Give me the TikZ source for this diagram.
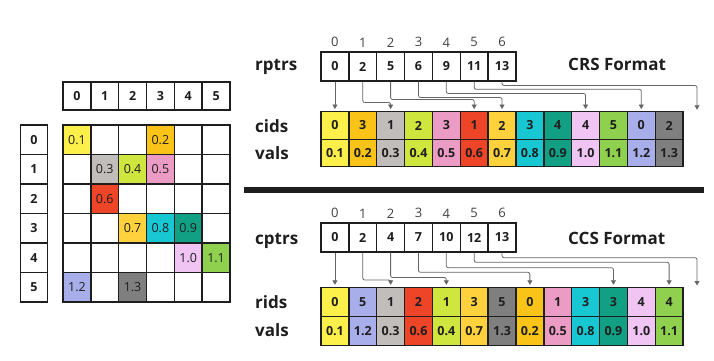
\documentclass[tikz,border=0pt]{standalone}
\usepackage{fontspec}
\setmainfont{Open Sans}
\definecolor{ink}{HTML}{1E1E1E}
\definecolor{wire}{HTML}{666666}
\definecolor{nz01}{HTML}{FDF04A}
\definecolor{nz02}{HTML}{F9C318}
\definecolor{nz03}{HTML}{C1BDBB}
\definecolor{nz04}{HTML}{CFE63F}
\definecolor{nz05}{HTML}{EC9CC4}
\definecolor{nz06}{HTML}{EE4428}
\definecolor{nz07}{HTML}{FFD23D}
\definecolor{nz08}{HTML}{17C8D3}
\definecolor{nz09}{HTML}{11A084}
\definecolor{nz10}{HTML}{F0C5F4}
\definecolor{nz11}{HTML}{8FD14F}
\definecolor{nz12}{HTML}{A7AEEA}
\definecolor{nz13}{HTML}{7F7F7F}
\usetikzlibrary{arrows.meta,positioning}

\begin{document}
\begin{tikzpicture}[x=1pt, y=-1pt,
  cell/.style={rectangle, draw=ink, line width=1.4pt, fill=white, minimum width=27.85pt, minimum height=27.5pt, inner sep=0pt, font=\bfseries\fontsize{12.5}{12.5}\selectfont, text=ink},
  mcell/.style={cell, minimum width=27.83pt, minimum height=29.5pt, font=\fontsize{12.5}{12.5}\selectfont},
  hcell/.style={mcell, font=\bfseries\fontsize{12.5}{12.5}\selectfont},
  lbl/.style={font=\bfseries\fontsize{17}{17}\selectfont, text=ink, inner sep=0pt, anchor=base west},
  idx/.style={font=\fontsize{13}{13}\selectfont, text=ink!85, inner sep=0pt},
  ptr/.style={-{Triangle[length=4.5pt,width=5pt]}, draw=wire, line width=0.8pt, rounded corners=2pt}]
\useasboundingbox (0,0) rectangle (714,360);
% dense matrix
\foreach \j in {0,...,5} \node[hcell, minimum height=27.7pt] (ch\j) at ({63+27.83*(\j+0.5)},96) {\j};
\foreach \i in {0,...,5} \node[hcell, minimum width=26.7pt] (rh\i) at (34,{125+29.5*(\i+0.5)}) {\i};
\foreach \i in {0,...,5} \foreach \j in {0,...,5}
  \node[mcell] (m\i\j) at ({63+27.83*(\j+0.5)},{125+29.5*(\i+0.5)}) {};
\foreach \i/\j/\v/\c in {0/0/0.1/nz01,0/3/0.2/nz02,1/1/0.3/nz03,1/2/0.4/nz04,1/3/0.5/nz05,2/1/0.6/nz06,3/2/0.7/nz07,
    3/3/0.8/nz08,3/4/0.9/nz09,4/4/1.0/nz10,4/5/1.1/nz11,5/0/1.2/nz12,5/2/1.3/nz13}
  \node[mcell, fill=\c] (v\i\j) at (m\i\j) {\v};
% CRS
\node[lbl] (lrp) at (255,70.5) {rptrs};
\node[lbl] (lci) at (255,132.7) {cids};
\node[lbl] (lcv) at (255,159.5) {vals};
\node[lbl] (crs) at (568,70.7) {CRS Format};
\foreach \v [count=\k from 0] in {0,2,5,6,9,11,13} {
  \node[cell, minimum height=29pt] (rp\k) at ({321+27.85*(\k+0.5)},66.5) {\v};
  \node[idx, above=4pt of rp\k] (rpi\k) {\k};
}
\foreach \c/\v/\col [count=\k from 0] in {0/0.1/nz01,3/0.2/nz02,1/0.3/nz03,2/0.4/nz04,3/0.5/nz05,1/0.6/nz06,2/0.7/nz07,
    3/0.8/nz08,4/0.9/nz09,4/1.0/nz10,5/1.1/nz11,0/1.2/nz12,2/1.3/nz13} {
  \node[cell, fill=\col] (ci\k) at ({321+27.85*(\k+0.5)},125.5) {\c};
  \node[cell, fill=\col] (cv\k) at ({321+27.85*(\k+0.5)},153) {\v};
}
\coordinate (ciend) at (697,111.75);
\draw[ptr] (rp0.south) -- ([yshift=2pt]ci0.north);
\foreach \s/\t/\lv in {1/ci2.north/102.5,2/ci5.north/99.5,3/ci6.north/97.5,4/ci9.north/93.5,5/ci11.north/89.3,6/ciend/85.5}
  \draw[ptr] (rp\s.south) -- (rp\s.south |- 0,\lv) -| ([yshift=2pt]\t);
% divider
\fill[ink] (244,186.7) rectangle (704,192.7);
% CCS
\node[lbl] (lcp) at (255,244) {cptrs};
\node[lbl] (lri) at (255,308.3) {rids};
\node[lbl] (lrv) at (255,336) {vals};
\node[lbl] (ccs) at (568,244) {CCS Format};
\foreach \v [count=\k from 0] in {0,2,4,7,10,12,13} {
  \node[cell, minimum height=29pt] (cp\k) at ({321+27.85*(\k+0.5)},237.5) {\v};
  \node[idx, above=4pt of cp\k] (cpi\k) {\k};
}
\foreach \r/\v/\col [count=\k from 0] in {0/0.1/nz01,5/1.2/nz12,1/0.3/nz03,2/0.6/nz06,1/0.4/nz04,3/0.7/nz07,5/1.3/nz13,
    0/0.2/nz02,1/0.5/nz05,3/0.8/nz08,3/0.9/nz09,4/1.0/nz10,4/1.1/nz11} {
  \node[cell, fill=\col, minimum height=29pt] (ri\k) at ({321+27.85*(\k+0.5)},302) {\r};
  \node[cell, fill=\col, minimum height=29pt] (rv\k) at ({321+27.85*(\k+0.5)},331) {\v};
}
\coordinate (riend) at (697,287.5);
\draw[ptr] (cp0.south) -- ([yshift=2pt]ri0.north);
\foreach \s/\t/\lv in {1/ri2.north/280,2/ri4.north/277.5,3/ri7.north/272.3,4/ri10.north/267.7,5/ri12.north/262.3,6/riend/257.7}
  \draw[ptr] (cp\s.south) -- (cp\s.south |- 0,\lv) -| ([yshift=2pt]\t);
\end{tikzpicture}
\end{document}
